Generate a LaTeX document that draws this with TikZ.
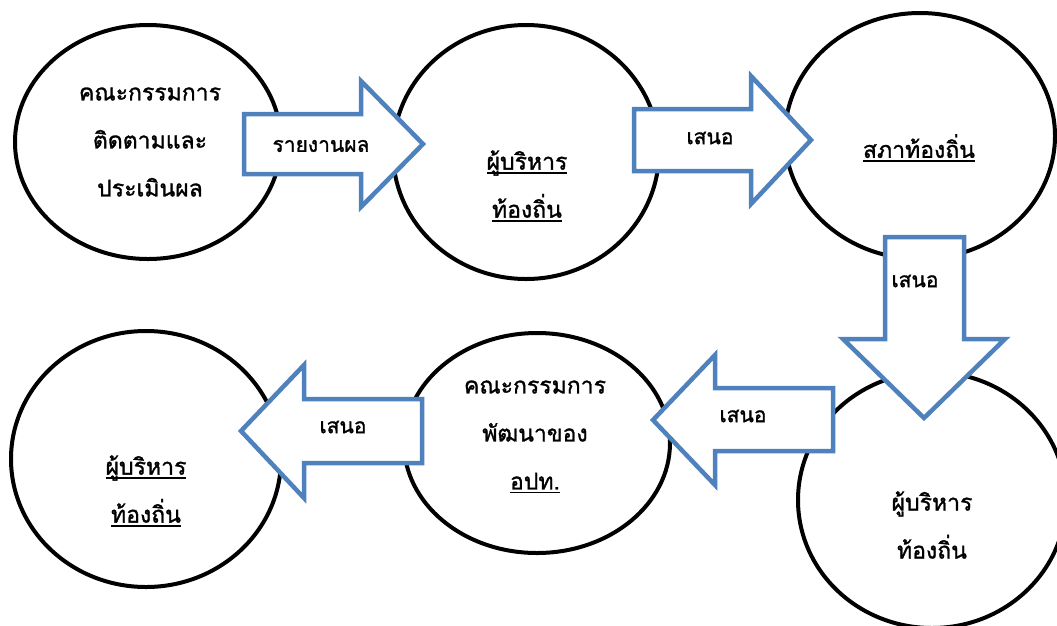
\documentclass[tikz,border=0pt]{standalone}
\usepackage{fontspec}
\newfontfamily\thai[Script=Thai,FakeBold=1.3]{Loma}
\usetikzlibrary{shapes.geometric}
\definecolor{arrowblue}{HTML}{4F81BD}
\newsavebox\ulbox
\newcommand\ulx[1]{\sbox\ulbox{#1}\rlap{\rule[-4pt]{\wd\ulbox}{1.4pt}}\usebox\ulbox}
\tikzset{
  bubble/.style={ellipse, draw=black, line width=4pt, fill=white, inner sep=0pt},
  blockarrow/.style={draw=arrowblue, line width=4.5pt, fill=white, line join=miter},
  bubbletext/.style={font=\thai\fontsize{23}{48}\selectfont, align=center, inner sep=0pt},
  arrowtext/.style={font=\thai\fontsize{21}{24}\selectfont, inner sep=0pt}
}
\begin{document}
\begin{tikzpicture}[x=1pt, y=-1pt]
\useasboundingbox (0,0) rectangle (1057,625);
\clip (0,0) rectangle (1057,625);
% bubbles
\node[bubble, minimum width=266pt, minimum height=234pt] (c1) at (148,142) {};
\node[bubble, minimum width=266pt, minimum height=254pt] (c2) at (526,152) {};
\node[bubble, minimum width=270pt, minimum height=246pt] (c3) at (920,136) {};
\node[bubble, minimum width=268pt, minimum height=256pt] (c4) at (932,500) {};
\node[bubble, minimum width=270pt, minimum height=256pt] (c5) at (146,459) {};
\node[bubble, minimum width=266pt, minimum height=220pt] (c6) at (537,443) {};
% bubble texts
\node[bubbletext] (t1) at (150,142) {คณะกรรมการ\\ติดตามและ\\ประเมินผล};
\node[bubbletext] (t2) at (527,186) {\ulx{ผู้บริหาร}\\\ulx{ท้องถิ่น}};
\node[bubbletext] (t3) at (919,148) {\ulx{สภาท้องถิ่น}};
\node[bubbletext] (t4) at (932,525) {ผู้บริหาร\\ท้องถิ่น};
\node[bubbletext] (t5) at (146,491) {\ulx{ผู้บริหาร}\\\ulx{ท้องถิ่น}};
\node[bubbletext] (t6) at (535,437) {คณะกรรมการ\\พัฒนาของ\\\ulx{อปท.}};
% block arrows
\draw[blockarrow] (244,114) -- (361,114) -- (361,81) -- (423,144) -- (361,207) -- (361,174) -- (244,174) -- cycle;
\draw[blockarrow] (634,109) -- (751,109) -- (751,76) -- (811,140) -- (751,204) -- (751,171) -- (634,171) -- cycle;
\draw[blockarrow] (885,237) -- (964,237) -- (964,339) -- (1005,339) -- (924,418) -- (843,339) -- (885,339) -- cycle;
\draw[blockarrow] (833,388) -- (715,388) -- (715,355) -- (653,420) -- (715,485) -- (715,451) -- (833,451) -- cycle;
\draw[blockarrow] (422,399) -- (304,399) -- (304,365) -- (241,431) -- (304,498) -- (304,463) -- (422,463) -- cycle;
% arrow labels
\node[arrowtext] (a1) at (321,146) {รายงานผล};
\node[arrowtext] (a2) at (710,138) {เสนอ};
\node[arrowtext] (a3) at (915,281) {เสนอ};
\node[arrowtext] (a4) at (743,416) {เสนอ};
\node[arrowtext] (a5) at (343,427) {เสนอ};
\end{tikzpicture}
\end{document}
